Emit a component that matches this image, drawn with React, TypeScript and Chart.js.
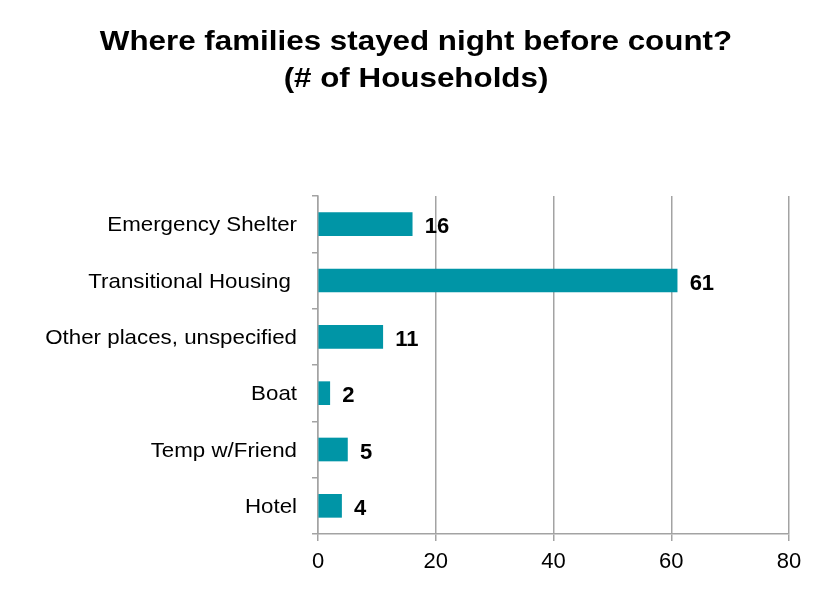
import React, { useEffect, useRef } from "react";
import { Chart, registerables } from "chart.js";

Chart.register(...registerables);

const categories = [
  "Emergency Shelter",
  "Transitional Housing ",
  "Other places, unspecified",
  "Boat",
  "Temp w/Friend",
  "Hotel",
];
const households = [16, 61, 11, 2, 5, 4];
const xTicks = [0, 20, 40, 60, 80];
const titleLines = ["Where families stayed night before count?", "(# of Households)"];

const FONT = "'Liberation Sans', Arial, Helvetica, sans-serif";
const BAR = "#0095A6";
const GRID = "#a3a3a3";

function drawStretched(ctx: any, text: string, x: number, y: number, sx: number, align: string) {
  ctx.save();
  ctx.translate(x, y);
  ctx.scale(sx, 1);
  ctx.textAlign = align;
  ctx.textBaseline = "alphabetic";
  ctx.fillText(text, 0, 0);
  ctx.restore();
}

export default function App() {
  const ref = useRef<HTMLCanvasElement | null>(null);
  useEffect(() => {
    if (!ref.current) return;
    const textPlugin = {
      id: "customText",
      afterDraw(chart: any) {
        const ctx = chart.ctx;
        ctx.save();
        ctx.fillStyle = "#000";
        // title
        ctx.font = `bold 28.5px ${FONT}`;
        drawStretched(ctx, titleLines[0], 408, 41.5, 1.1, "center");
        drawStretched(ctx, titleLines[1], 408, 79, 1.1, "center");
        // category labels
        const y = chart.scales.y;
        ctx.font = `20.3px ${FONT}`;
        categories.forEach((c, i) => {
          const py = y.getPixelForValue(i);
          drawStretched(ctx, c, y.right - 21, py + 7.3, 1.1, "right");
        });
        // x tick labels
        const x = chart.scales.x;
        ctx.font = `22px ${FONT}`;
        xTicks.forEach((v) => {
          drawStretched(ctx, String(v), x.getPixelForValue(v), chart.chartArea.bottom + 34, 1.0, "center");
        });
        ctx.restore();
      },
      afterDatasetsDraw(chart: any) {
        const ctx = chart.ctx;
        const meta = chart.getDatasetMeta(0);
        ctx.save();
        ctx.fillStyle = "#000";
        ctx.font = `bold 22px ${FONT}`;
        meta.data.forEach((el: any, i: number) => {
          drawStretched(ctx, String(households[i]), el.x + 12.5, el.y + 9, 1.0, "left");
        });
        ctx.restore();
      },
    };
    const chart = new Chart(ref.current, {
      type: "bar",
      data: {
        labels: categories,
        datasets: [
          {
            data: households,
            backgroundColor: BAR,
            borderWidth: 0,
            barThickness: 23,
          },
        ],
      },
      options: {
        indexAxis: "y",
        animation: false,
        responsive: false,
        maintainAspectRatio: false,
        layout: { padding: { top: 188, right: 19, bottom: 0, left: 0 } },
        plugins: {
          legend: { display: false },
          title: { display: false },
          tooltip: { enabled: false },
        },
        scales: {
          x: {
            min: 0,
            max: 80,
            afterBuildTicks: (scale: any) => {
              scale.ticks = xTicks.map((v) => ({ value: v }));
            },
            afterFit: (scale: any) => {
              scale.height = 65;
            },
            grid: {
              color: GRID,
              lineWidth: 1.5,
              drawTicks: true,
              tickLength: 7,
              tickColor: GRID,
            },
            border: { display: true, color: GRID, width: 1.5 },
            ticks: { display: false },
          },
          y: {
            afterFit: (scale: any) => {
              scale.width = 310;
            },
            grid: {
              offset: true,
              drawOnChartArea: false,
              drawTicks: true,
              tickLength: 6,
              tickColor: GRID,
              lineWidth: 1.5,
            },
            border: { display: true, color: GRID, width: 1.5 },
            ticks: { display: false },
          },
        },
      },
      plugins: [textPlugin],
    });
    return () => chart.destroy();
  }, []);
  return (
    <div style={{ width: 800, height: 591 }}>
      <canvas ref={ref} width={800} height={591} style={{ display: "block" }} />
    </div>
  );
}
